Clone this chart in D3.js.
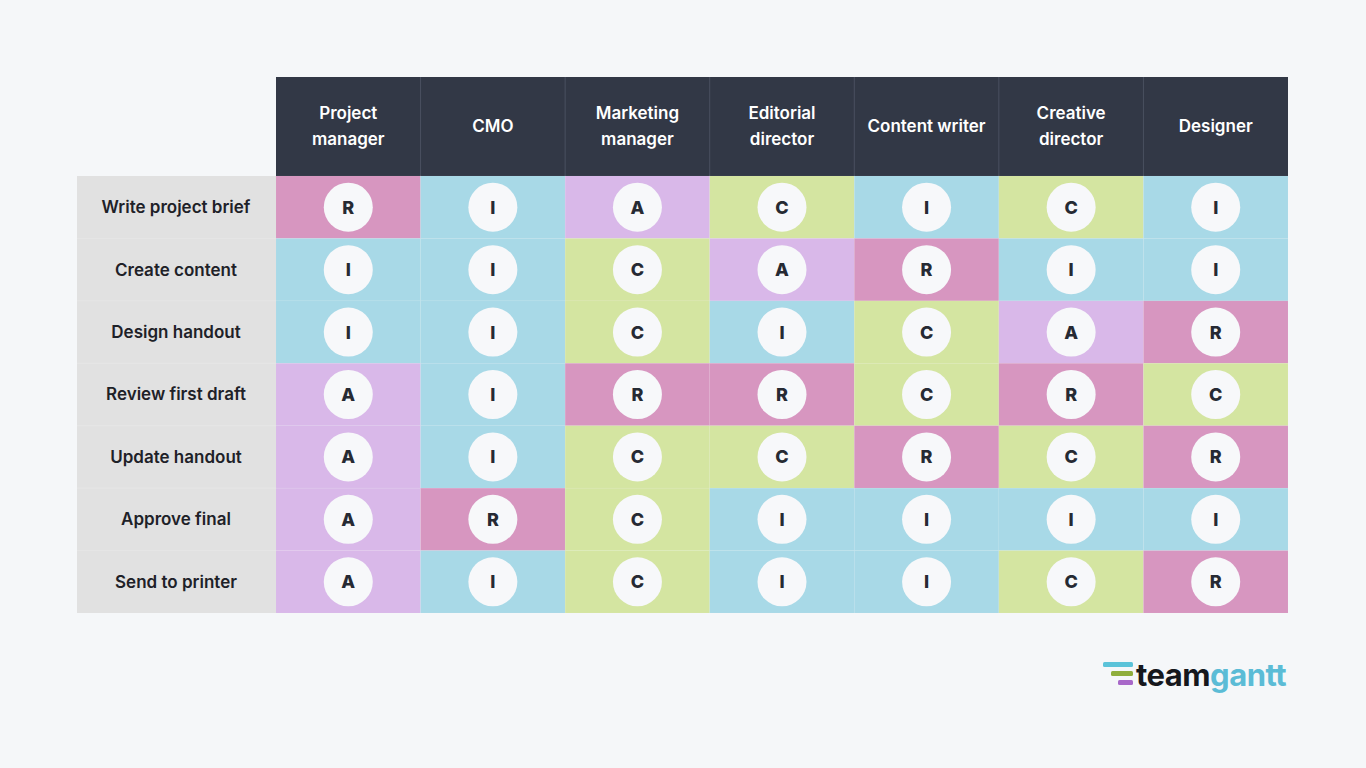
<!DOCTYPE html>
<html><head><meta charset="utf-8">
<script src="https://cdn.jsdelivr.net/npm/d3@7"></script>
<style>body{margin:0;background:#f5f7f9;}</style>
</head><body><div id="chart"></div>
<script>
const roles = ['Project\nmanager', 'CMO', 'Marketing\nmanager', 'Editorial\ndirector', 'Content writer', 'Creative\ndirector', 'Designer'];
const tasks = ['Write project brief', 'Create content', 'Design handout', 'Review first draft', 'Update handout', 'Approve final', 'Send to printer'];
const assignments = [
  ['R', 'I', 'A', 'C', 'I', 'C', 'I'],
  ['I', 'I', 'C', 'A', 'R', 'I', 'I'],
  ['I', 'I', 'C', 'I', 'C', 'A', 'R'],
  ['A', 'I', 'R', 'R', 'C', 'R', 'C'],
  ['A', 'I', 'C', 'C', 'R', 'C', 'R'],
  ['A', 'R', 'C', 'I', 'I', 'I', 'I'],
  ['A', 'I', 'C', 'I', 'I', 'C', 'R'],
];
const letters = ['R', 'A', 'C', 'I'];
const letterColors = ['#d796c0', '#d9b8e9', '#d4e5a1', '#a8d9e7'];

const W = 1366, H = 768;
const svg = d3.select('#chart').append('svg').attr('width', W).attr('height', H)
  .style('font-family', 'Inter, "Open Sans", sans-serif');
svg.append('rect').attr('width', W).attr('height', H).attr('fill', '#f5f7f9');

const x = d3.scaleBand().domain(d3.range(roles.length)).range([276, 1288]);
const y = d3.scaleBand().domain(d3.range(tasks.length)).range([176, 613]);
const color = d3.scaleOrdinal().domain(letters).range(letterColors);

// header
const head = svg.append('g');
head.append('rect').attr('x', 276).attr('y', 77).attr('width', 1012).attr('height', 99).attr('fill', '#323846');
roles.forEach((r, i) => {
  if (i > 0) head.append('line').attr('x1', x(i)).attr('x2', x(i)).attr('y1', 77).attr('y2', 176)
    .attr('stroke', '#4a5060').attr('stroke-width', 1);
  const lines = r.split('\n');
  const t = head.append('text').attr('x', x(i) + x.bandwidth() / 2).attr('text-anchor', 'middle')
    .attr('fill', '#fff').style('font-size', '17px').style('font-weight', 600);
  lines.forEach((l, k) => t.append('tspan').attr('x', x(i) + x.bandwidth() / 2)
    .attr('y', 126.5 + (k - (lines.length - 1) / 2) * 26).attr('dy', '0.35em').text(l));
});

// row labels
svg.append('rect').attr('x', 77).attr('y', 176).attr('width', 199).attr('height', 437).attr('fill', '#e1e1e1');
tasks.forEach((t, j) => {
  if (j > 0) svg.append('line').attr('x1', 77).attr('x2', 276).attr('y1', y(j)).attr('y2', y(j))
    .attr('stroke', '#e6e6e6');
  svg.append('text').attr('x', 176).attr('y', y(j) + y.bandwidth() / 2).attr('dy', '0.35em')
    .attr('text-anchor', 'middle').attr('fill', '#1e2128').style('font-size', '17px').style('font-weight', 600).text(t);
});

// cells
assignments.forEach((row, j) => row.forEach((v, i) => {
  const cx = x(i) + x.bandwidth() / 2, cy = y(j) + y.bandwidth() / 2;
  svg.append('rect').attr('x', x(i)).attr('y', y(j)).attr('width', x.bandwidth()).attr('height', y.bandwidth())
    .attr('fill', color(v)).attr('stroke', 'rgba(255,255,255,0.05)');
  svg.append('circle').attr('cx', cx).attr('cy', cy).attr('r', 24.5).attr('fill', '#f7f8fa');
  svg.append('text').attr('x', cx).attr('y', cy).attr('dy', '0.36em').attr('text-anchor', 'middle')
    .attr('fill', '#262a33').style('font-size', '18px').style('font-weight', 800).text(v);
}));

// logo
const logo = svg.append('g');
logo.append('rect').attr('x', 1103).attr('y', 662).attr('width', 30).attr('height', 5).attr('rx', 1.5).attr('fill', '#5bc3d9');
logo.append('rect').attr('x', 1111).attr('y', 671).attr('width', 22).attr('height', 5).attr('rx', 1.5).attr('fill', '#8fae3c');
logo.append('rect').attr('x', 1118).attr('y', 680).attr('width', 15).attr('height', 5).attr('rx', 1.5).attr('fill', '#a868c9');
const lt = logo.append('text').attr('x', 1136).attr('y', 686).style('font-size', '31px').style('font-weight', 700)
  .style('letter-spacing', '-0.5px');
lt.append('tspan').attr('fill', '#16181d').text('team');
lt.append('tspan').attr('fill', '#5bbcd6').text('gantt');
</script></body></html>
